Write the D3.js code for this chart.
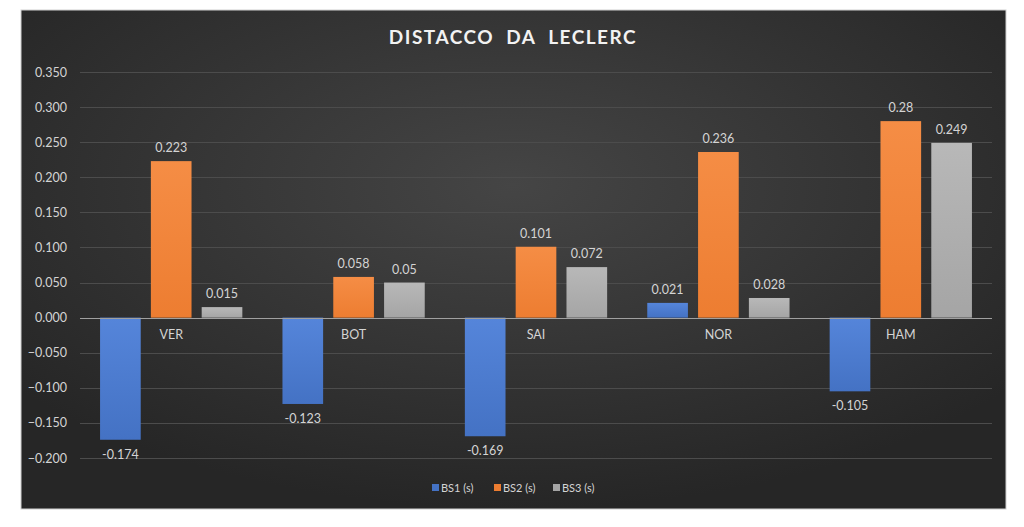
<!DOCTYPE html>
<html><head><meta charset="utf-8">
<script src="https://cdn.jsdelivr.net/npm/d3@7/dist/d3.min.js"></script>
<style>html,body{margin:0;padding:0;background:#fff;}svg{display:block;}</style>
</head><body>
<script>
const categories = ["VER", "BOT", "SAI", "NOR", "HAM"];
const seriesNames = ["BS1 (s)", "BS2 (s)", "BS3 (s)"];
const bs1 = [-0.174, -0.123, -0.169, 0.021, -0.105];
const bs2 = [0.223, 0.058, 0.101, 0.236, 0.28];
const bs3 = [0.015, 0.05, 0.072, 0.028, 0.249];
const labels1 = ["-0.174", "-0.123", "-0.169", "0.021", "-0.105"];
const labels2 = ["0.223", "0.058", "0.101", "0.236", "0.28"];
const labels3 = ["0.015", "0.05", "0.072", "0.028", "0.249"];
const yTicks = [-0.2, -0.15, -0.1, -0.05, 0, 0.05, 0.1, 0.15, 0.2, 0.25, 0.3, 0.35];

const W = 1024, H = 527;
const colors = ["#4472c4", "#ed7d31", "#a5a5a5"];
const colorsLight = ["#5585da", "#f58d45", "#b8b8b8"];
const font = "Lato, 'Open Sans', sans-serif";

const svg = d3.select("body").append("svg").attr("width", W).attr("height", H);
const defs = svg.append("defs");
const bg = defs.append("radialGradient").attr("id", "bg").attr("cx", "50%").attr("cy", "35%").attr("r", "65%");
bg.append("stop").attr("offset", "0%").attr("stop-color", "#454545");
bg.append("stop").attr("offset", "100%").attr("stop-color", "#262626");
colors.forEach((c, i) => {
  const g = defs.append("linearGradient").attr("id", "g" + i).attr("x1", 0).attr("y1", 0).attr("x2", 0).attr("y2", 1);
  g.append("stop").attr("offset", "0%").attr("stop-color", colorsLight[i]);
  g.append("stop").attr("offset", "100%").attr("stop-color", c);
});

// chart frame
svg.append("rect").attr("x", 21).attr("y", 10).attr("width", 985).attr("height", 499)
  .attr("fill", "url(#bg)").attr("stroke", "#d0d0d0").attr("stroke-width", 1);

const plot = {left: 80, right: 992, top: 72, bottom: 458};
const y = d3.scaleLinear().domain([-0.2, 0.35]).range([plot.bottom, plot.top]);
const x0 = d3.scaleBand().domain(categories).range([plot.left, plot.right]).paddingInner(0.22).paddingOuter(0.11);
const x1 = d3.scaleBand().domain(seriesNames).range([0, x0.bandwidth()]).paddingInner(0.2).paddingOuter(0);

// gridlines
svg.append("g").selectAll("line").data(yTicks.filter(t => t !== 0)).join("line")
  .attr("x1", plot.left).attr("x2", plot.right)
  .attr("y1", d => Math.round(y(d)) + 0.5).attr("y2", d => Math.round(y(d)) + 0.5)
  .attr("stroke", "#4c4c4c").attr("stroke-width", 1);

// y axis labels
const yAxis = d3.axisLeft(y).tickValues(yTicks).tickFormat(d3.format(".3f")).tickSize(0).tickPadding(0);
const ya = svg.append("g").attr("transform", "translate(67,0)").call(yAxis);
ya.select(".domain").remove();
ya.selectAll("text").attr("fill", "#d4d4d4").attr("font-family", font).attr("font-size", 12.5);

const series = [bs1, bs2, bs3];
const labs = [labels1, labels2, labels3];

series.forEach((vals, si) => {
  const g = svg.append("g");
  g.selectAll("rect").data(vals).join("rect")
    .attr("x", (d, i) => x0(categories[i]) + x1(seriesNames[si]))
    .attr("width", x1.bandwidth())
    .attr("y", d => y(Math.max(0, d)))
    .attr("height", d => Math.abs(y(d) - y(0)))
    .attr("fill", `url(#g${si})`);
  g.selectAll("text").data(vals).join("text")
    .attr("x", (d, i) => x0(categories[i]) + x1(seriesNames[si]) + x1.bandwidth() / 2)
    .attr("y", d => d >= 0 ? y(d) - 9 : y(d) + 19)
    .attr("text-anchor", "middle")
    .attr("fill", "#d4d4d4").attr("font-family", font).attr("font-size", 12.5)
    .text((d, i) => labs[si][i]);
});

// zero line
svg.append("line").attr("x1", plot.left).attr("x2", plot.right)
  .attr("y1", Math.round(y(0)) + 0.5).attr("y2", Math.round(y(0)) + 0.5)
  .attr("stroke", "#a0a0a0").attr("stroke-width", 1);

// category labels
const xAxis = d3.axisBottom(x0).tickSize(0).tickPadding(0);
const xa = svg.append("g").attr("transform", `translate(0,${y(0) + 10})`).call(xAxis);
xa.select(".domain").remove();
xa.selectAll("text").attr("fill", "#d4d4d4").attr("font-family", font).attr("font-size", 12.5).attr("dy", "0.9em");

// title
svg.append("text").attr("x", 513).attr("y", 44).attr("text-anchor", "middle")
  .attr("fill", "#f2f2f2").attr("font-family", font).attr("font-weight", "bold")
  .attr("font-size", 19).attr("letter-spacing", 1.5).attr("xml:space", "preserve")
  .style("white-space", "pre")
  .text("DISTACCO  DA  LECLERC");

// legend
const legendX = [432, 494, 553];
const lg = svg.append("g");
seriesNames.forEach((n, i) => {
  lg.append("rect").attr("x", legendX[i]).attr("y", 484).attr("width", 7).attr("height", 7).attr("fill", colors[i]);
  lg.append("text").attr("x", legendX[i] + 9).attr("y", 491.5).attr("fill", "#d4d4d4")
    .attr("font-family", font).attr("font-size", 11).text(n);
});
</script>
</body></html>
